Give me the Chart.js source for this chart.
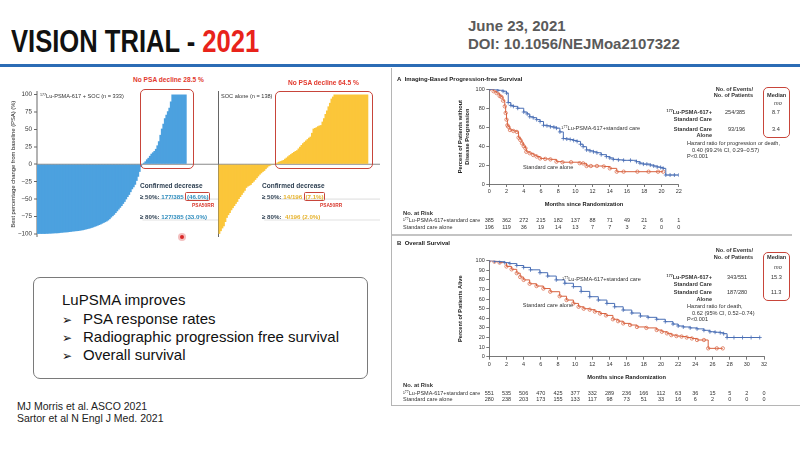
<!DOCTYPE html>
<html lang="en">
<head>
<meta charset="utf-8">
<title>VISION trial 2021</title>
<script src="https://cdn.jsdelivr.net/npm/chart.js@4.4.0/dist/chart.umd.min.js"></script>
<style>
  html, body { margin: 0; padding: 0; }
  body { width: 800px; height: 450px; position: relative; overflow: hidden; background: #fff;
         font-family: Arial, "Liberation Sans", sans-serif; color: #222; }
  .t { position: absolute; white-space: nowrap; line-height: 1; z-index: 2; }
  .b { font-weight: bold; }
  canvas { position: absolute; z-index: 1; }
  sup { font-size: 65%; vertical-align: 0.45em; line-height: 0; }
  .km { font-size: 5.6px; color: #333; }
  .wf { font-size: 6.2px; font-weight: bold; color: #2c3e50; }
  .redbox { position: absolute; border: 1.3px solid #c8453a; border-radius: 5px; z-index: 2; }
  .bx { border: 1px solid #c8453a; border-radius: 1.5px; padding: 0 0.5px; }
</style>
</head>
<body>

<!-- header -->
<div class="t b" style="left:11px; top:26px; font-size:31px; color:#111; transform:scaleX(0.825); transform-origin:left top;">VISION TRIAL - <span style="color:#e8231b;">2021</span></div>
<div class="t b" style="left:468px; top:18px; font-size:15px; color:#5a5a5a;">June 23, 2021</div>
<div class="t b" style="left:468px; top:36px; font-size:15px; color:#5a5a5a;">DOI: 10.1056/NEJMoa2107322</div>
<div style="position:absolute; left:0; top:63.5px; width:800px; height:3px; background:#2b6cb5;"></div>

<canvas id="wfLu" width="218" height="160" style="left:0; top:85px;"></canvas>
<canvas id="wfSoc" width="165" height="160" style="left:218px; top:85px;"></canvas>

<!-- waterfall overlays -->
<div class="t b" style="left:133px; top:76.5px; font-size:6.6px; color:#e2392d;">No PSA decline 28.5 %</div>
<div class="t b" style="left:288px; top:79.5px; font-size:6.6px; color:#e2392d;">No PSA decline 64.5 %</div>
<div class="t" style="left:40px; top:94px; font-size:5.6px; color:#333;"><sup>177</sup>Lu-PSMA-617 + SOC (n = 333)</div>
<div class="t" style="left:221px; top:94px; font-size:5.6px; color:#333;">SOC alone (n = 138)</div>
<div class="redbox" style="left:140px; top:89px; width:52px; height:78px;"></div>
<div class="redbox" style="left:275px; top:91px; width:96px; height:76px;"></div>

<div class="t wf" style="left:140px; top:182.5px; font-size:6.5px;">Confirmed decrease</div>
<div class="t wf" style="left:140px; top:194px;">≥ 50%: <span style="color:#2e8cbd;">177/385 <span class="bx">(46.0%)</span></span></div>
<div class="t b" style="left:192px; top:204px; font-size:4.8px; color:#d8362b;">PSA50RR</div>
<div class="t wf" style="left:140px; top:214px;">≥ 80%: <span style="color:#2e8cbd;">127/385 (33.0%)</span></div>

<div class="t wf" style="left:262px; top:182.5px; font-size:6.5px;">Confirmed decrease</div>
<div class="t wf" style="left:262px; top:194px;">≥ 50%: <span style="color:#e6b22c;">14/196 <span class="bx">(7.1%)</span></span></div>
<div class="t b" style="left:320px; top:204px; font-size:4.8px; color:#d8362b;">PSA50RR</div>
<div class="t wf" style="left:262px; top:214px;">≥ 80%: &nbsp;<span style="color:#e6b22c;">4/196 (2.0%)</span></div>
<div style="position:absolute; left:178px; top:233px; width:8px; height:8px; border-radius:50%; background:#f3c0c0; z-index:2;"></div>
<div style="position:absolute; left:180px; top:235px; width:4px; height:4px; border-radius:50%; background:#d92626; z-index:3;"></div>

<!-- summary box -->
<div style="position:absolute; left:33px; top:277px; width:333px; height:100px; border:1.5px solid #7a7a7a; border-radius:7px;"></div>
<div class="t" style="left:62px; top:292px; font-size:15px; color:#111;">LuPSMA improves</div>
<div class="t" style="left:62px; top:310.5px; font-size:15px; color:#111;"><span style="font-family:'DejaVu Sans'; font-size:12px;">➢</span></div>
<div class="t" style="left:83px; top:310.5px; font-size:15px; color:#111;">PSA response rates</div>
<div class="t" style="left:62px; top:328.5px; font-size:15px; color:#111;"><span style="font-family:'DejaVu Sans'; font-size:12px;">➢</span></div>
<div class="t" style="left:83px; top:328.5px; font-size:15px; color:#111;">Radiographic progression free survival</div>
<div class="t" style="left:62px; top:347px; font-size:15px; color:#111;"><span style="font-family:'DejaVu Sans'; font-size:12px;">➢</span></div>
<div class="t" style="left:83px; top:347px; font-size:15px; color:#111;">Overall survival</div>

<div class="t" style="left:17px; top:401px; font-size:10.5px; color:#222;">MJ Morris et al. ASCO 2021</div>
<div class="t" style="left:17px; top:413px; font-size:10.5px; color:#222;">Sartor et al N Engl J Med. 2021</div>

<!-- NEJM panel frame -->
<div style="position:absolute; left:391px; top:68px; width:410px; height:337px; border-left:1.2px solid #b5b5b5; border-bottom:1.2px solid #b5b5b5;"></div>
<div style="position:absolute; left:392px; top:234px; width:400px; height:1.5px; background:#c4c4c4;"></div>

<div class="t km b" style="left:397px; top:76px; font-size:6px; color:#222;">A&nbsp;&nbsp;Imaging-Based Progression-free Survival</div>
<div class="t km b" style="left:397px; top:240px; font-size:6px; color:#222;">B&nbsp;&nbsp;Overall Survival</div>

<!-- panel A legend -->
<div class="t km b" style="right:47px; top:86.5px; text-align:right;">No. of Events/</div>
<div class="t km b" style="right:47px; top:93px; text-align:right;">No. of Patients</div>
<div class="t km b" style="left:767px; top:93px;">Median</div>
<div class="t km" style="left:774px; top:101px; font-style:italic;">mo</div>
<div class="t km b" style="right:88px; top:110px;"><sup>177</sup>Lu-PSMA-617+</div>
<div class="t km b" style="right:88px; top:116.5px;">Standard Care</div>
<div class="t km" style="left:725px; top:110px;">254/385</div>
<div class="t km" style="left:772px; top:110px;">8.7</div>
<div class="t km b" style="right:88px; top:126.5px;">Standard Care</div>
<div class="t km b" style="right:88px; top:133px;">Alone</div>
<div class="t km" style="left:728px; top:126.5px;">93/196</div>
<div class="t km" style="left:772px; top:126.5px;">3.4</div>
<div class="t km" style="left:687px; top:141px;">Hazard ratio for progression or death,</div>
<div class="t km" style="left:692px; top:147.5px;">0.40 (99.2% CI, 0.29–0.57)</div>
<div class="t km" style="left:687px; top:154px;">P&lt;0.001</div>
<div class="redbox" style="left:763px; top:87px; width:25px; height:49px;"></div>

<!-- panel B legend -->
<div class="t km b" style="right:47px; top:248px; text-align:right;">No. of Events/</div>
<div class="t km b" style="right:47px; top:254.5px; text-align:right;">No. of Patients</div>
<div class="t km b" style="left:767px; top:254.5px;">Median</div>
<div class="t km" style="left:774px; top:265px; font-style:italic;">mo</div>
<div class="t km b" style="right:88px; top:275px;"><sup>177</sup>Lu-PSMA-617+</div>
<div class="t km b" style="right:88px; top:281.5px;">Standard Care</div>
<div class="t km" style="left:727px; top:275px;">343/551</div>
<div class="t km" style="left:771px; top:275px;">15.3</div>
<div class="t km b" style="right:88px; top:290px;">Standard Care</div>
<div class="t km b" style="right:88px; top:296.5px;">Alone</div>
<div class="t km" style="left:727px; top:290px;">187/280</div>
<div class="t km" style="left:771px; top:290px;">11.3</div>
<div class="t km" style="left:687px; top:304px;">Hazard ratio for death,</div>
<div class="t km" style="left:692px; top:310.5px;">0.62 (95% CI, 0.52–0.74)</div>
<div class="t km" style="left:687px; top:317px;">P&lt;0.001</div>
<div class="redbox" style="left:763px; top:252px; width:25px; height:47px;"></div>

<canvas id="kmPfs" width="400" height="160" style="left:392px; top:72px;"></canvas>
<canvas id="kmOs" width="400" height="166" style="left:392px; top:238px;"></canvas>

<script>
// Best PSA change from baseline, sorted
const luChange = [
  -100, -100, -100, -100, -100, -100, -99.8, -99.7, -99.6, -99.5,
  -99.4, -99.3, -99.1, -99, -98.8, -98.6, -98.4, -98.2, -98, -97.8,
  -97.6, -97.3, -97, -96.8, -96.5, -96.2, -96, -95.8, -95.5, -95.1,
  -94.7, -94.2, -93.7, -93.2, -92.6, -92, -91.3, -90.6, -89.8, -89,
  -88.2, -87.3, -86.3, -85.3, -84.2, -83.1, -82, -80.5, -78.7, -76.5,
  -74.5, -72.5, -70, -67.5, -65, -62.5, -60, -57, -54, -50.5,
  -47, -44, -40, -36, -33, -29.5, -24, -18, -11, -4,
  0.5, 2, 4, 7, 9, 12, 15, 17, 19, 22,
  27, 33, 42, 51, 58, 66, 71, 76, 81, 90,
  100, 100, 100, 100, 100, 100, 100, 100, 100, 100
];
const socChange = [
  -100, -96, -92, -89, -83, -77, -73, -70, -66, -63,
  -60, -57, -54, -50, -47, -44, -41, -38, -34, -32,
  -31, -29.6, -27, -25, -22.5, -20, -17.5, -15, -13, -11,
  -9.5, -7, -5, -3, -2, -1.2, -0.6,
  0.3, 1.4, 2.5, 3.5, 4.5, 5.2, 6, 7.8, 9.5, 11.2,
  13, 14.5, 16, 17.5, 19, 20, 22.5, 25, 27.5, 30,
  32, 34, 36, 38, 39.5, 45, 51, 52, 53, 54.5,
  55.5, 56, 61, 66, 72, 77, 83, 88, 94, 97,
  100, 100, 100, 100, 100, 100, 100, 100, 100, 100,
  100, 100, 100, 100, 100, 100, 100, 100, 100, 100, 100, 100, 100
];
const waterfallTicks = [-100, -75, -50, -25, 0, 25, 50, 75, 100];
const confirmedLines = [-50, -80];

// Imaging-based PFS (Kaplan-Meier)
const pfsLuMonths = [0, 1.0, 1.6, 2.0, 2.2, 2.5, 2.8, 3.3, 4.0, 4.4, 4.7, 5.1, 5.5, 5.9, 6.3, 6.7, 7.1, 7.5, 7.8, 8.2,
  8.6, 9.0, 9.4, 9.8, 10.2, 10.6, 10.9, 11.3, 11.7, 12.1, 12.5, 13.0, 13.6, 14.0, 14.4, 15.0, 15.6, 16.4, 17.1, 17.5,
  17.9, 18.3, 18.7, 19.1, 19.5, 19.9, 20.2, 20.5, 21.0, 21.5, 22.0];
const pfsLuPct = [100, 99, 98, 96, 86, 83, 82, 80, 76, 74, 71, 70, 68, 66, 62, 61.5, 60.5, 60, 59, 55,
  48, 47.5, 47, 46, 45, 42, 39.4, 36, 35, 34, 33, 31, 29, 27.5, 26, 25.5, 25, 25, 23.6, 22,
  21, 21, 20, 19, 18, 17.5, 16.5, 9.5, 9.5, 9.5, 9.5];
const pfsSocMonths = [0, 0.5, 0.85, 1.2, 1.4, 1.6, 1.8, 1.9, 2.0, 2.1, 2.2, 2.4, 2.8, 3.2, 3.4, 3.6, 3.8, 4.0, 4.2, 4.3,
  4.7, 5.1, 5.5, 5.9, 6.5, 7.1, 7.8, 8.5, 9.5, 10.5, 10.9, 11.3, 11.8, 12.5, 13.3, 14.0, 14.8, 15.6, 17.2, 18.5,
  19.6, 20.2];
const pfsSocPct = [100, 98, 96, 93, 92, 88, 82, 75, 68, 62, 60.5, 57, 56, 55, 49, 46.5, 43, 40, 37.7, 34,
  32.5, 30.6, 29, 27, 26.5, 26, 23.6, 23, 23, 22, 21.8, 19, 19, 19, 18.5, 16.5, 13, 13, 13, 13,
  13, 13];
const pfsRiskLu = [385, 362, 272, 215, 182, 137, 88, 71, 49, 21, 6, 1];
const pfsRiskSoc = [196, 119, 36, 19, 14, 13, 7, 7, 3, 2, 0, 0];

// Overall survival (Kaplan-Meier)
const osLuMonths = [0, 0.6, 1.2, 1.8, 2.4, 3.2, 4.0, 4.8, 5.9, 6.8, 7.8, 8.8, 9.8, 10.7, 11.7, 12.7, 13.7, 14.6, 15.6, 16.6,
  17.6, 18.5, 19.5, 20.5, 21.4, 22.0, 22.6, 23.4, 24.2, 25.0, 25.7, 26.3, 26.9, 27.3, 27.7, 28.5, 29.5, 30.5, 31.5];
const osLuPct = [100, 99.5, 99, 98, 97, 95, 93, 90.5, 87.5, 84, 80, 76.5, 73, 68, 62.5, 59, 55.5, 52, 48.6, 45.5,
  42.4, 41, 39, 36.5, 34, 32, 31, 30, 29, 27.5, 26, 25.5, 25, 24, 20, 20, 20, 20, 20];
const osSocMonths = [0, 0.6, 1.2, 2.0, 2.6, 3.2, 3.6, 4.0, 4.7, 5.5, 6.3, 7.1, 8.2, 9.0, 9.8, 10.4, 11.0, 11.7, 12.3, 12.9,
  13.6, 14.4, 15.0, 15.6, 16.4, 17.2, 18.3, 19.5, 20.1, 20.7, 21.2, 21.8, 22.4, 23.0, 23.6, 24.2, 25.0, 25.5, 26.5, 27.2];
const osSocPct = [100, 99, 98, 94, 91, 87, 83, 80, 76, 73.6, 71, 67.7, 63, 59, 55.5, 52, 50, 49, 47, 45,
  43, 39, 37, 34.7, 33, 31, 30, 27.8, 26, 24.3, 22.5, 21.5, 21, 20, 19, 17.4, 17.4, 8.7, 8.7, 8.7];
const osRiskLu = [551, 535, 506, 470, 425, 377, 332, 289, 236, 166, 112, 63, 36, 15, 5, 2, 0];
const osRiskSoc = [280, 238, 203, 173, 155, 133, 117, 98, 73, 51, 33, 16, 6, 2, 0, 0, 0];

const BLUE_BAR = '#4ca1df';
const GOLD_BAR = '#fbc63a';
const KM_BLUE = '#4a6fb5';
const KM_RED = '#d8623f';

Chart.defaults.font.family = "'Liberation Sans', Arial, sans-serif";
Chart.defaults.color = '#333';

// zero line + faint confirmed-decrease rules behind the bars
const wfLines = {
  id: 'wfLines',
  beforeDatasetsDraw(chart, args, opts) {
    const { ctx, chartArea, scales } = chart;
    ctx.save();
    ctx.lineWidth = 0.8;
    ctx.strokeStyle = '#d6d6d6';
    opts.rules.forEach(v => {
      const py = scales.y.getPixelForValue(v);
      ctx.beginPath();
      ctx.moveTo(scales.x.getPixelForValue(opts.ruleFrom), py);
      ctx.lineTo(opts.lineTo, py);
      ctx.stroke();
    });
    ctx.strokeStyle = '#8a8a8a';
    ctx.lineWidth = 1;
    const zy = scales.y.getPixelForValue(0);
    ctx.beginPath();
    ctx.moveTo(chartArea.left, zy);
    ctx.lineTo(opts.lineTo, zy);
    ctx.stroke();
    ctx.restore();
  }
};

function waterfall(id, values, color, o) {
  new Chart(document.getElementById(id), {
    type: 'bar',
    data: {
      labels: values.map((v, i) => i + 1),
      datasets: [{
        data: values, backgroundColor: color, borderWidth: 0,
        barPercentage: 1.5, categoryPercentage: 1
      }]
    },
    options: {
      responsive: false, animation: false, events: [], devicePixelRatio: 2,
      layout: { padding: { left: 0, right: o.padRight, top: 6.7, bottom: 8.3 } },
      plugins: {
        legend: { display: false }, tooltip: { enabled: false },
        wfLines: { rules: confirmedLines, ruleFrom: o.ruleFrom, lineTo: o.lineTo }
      },
      scales: {
        x: { display: false },
        y: {
          min: -104, max: 104,
          afterBuildTicks: s => { s.ticks = waterfallTicks.map(v => ({ value: v })); },
          afterFit: s => { s.width = o.axisWidth; },
          ticks: { display: o.labels, font: { size: 6.3 }, color: '#333', padding: 2,
                   callback: v => String(v).replace('-', '−') },
          grid: { drawOnChartArea: false, drawTicks: o.labels, tickLength: 3, color: '#666' },
          border: { display: true, color: '#666', width: 1 },
          title: { display: o.labels, text: 'Best percentage change from baseline (PSA) (%)',
                   font: { size: 5.8 }, color: '#222', padding: { top: 10, bottom: 0 } }
        }
      }
    },
    plugins: [wfLines]
  });
}

waterfall('wfLu', luChange, BLUE_BAR, { padRight: 31.3, axisWidth: 37, labels: true, ruleFrom: 70, lineTo: 218 });
waterfall('wfSoc', socChange, GOLD_BAR, { padRight: 14.7, axisWidth: 0.5, labels: false, ruleFrom: 30, lineTo: 162 });

// number-at-risk table and in-plot curve labels
const kmText = {
  id: 'kmText',
  afterDraw(chart, args, opts) {
    const { ctx, scales } = chart;
    ctx.save();
    ctx.fillStyle = '#333';
    ctx.textBaseline = 'middle';
    ctx.font = "5.6px 'Liberation Sans', Arial";
    opts.curveLabels.forEach(l => {
      ctx.textAlign = 'left';
      ctx.fillText(l.text, scales.x.getPixelForValue(l.month), scales.y.getPixelForValue(l.pct));
    });
    ctx.font = "bold 5.8px 'Liberation Sans', Arial";
    ctx.fillText('No. at Risk', 11, opts.riskY[0]);
    ctx.font = "5.5px 'Liberation Sans', Arial";
    opts.rows.forEach((row, r) => {
      const y = opts.riskY[r + 1];
      ctx.textAlign = 'left';
      ctx.fillText(row.label, 11, y);
      ctx.textAlign = 'center';
      row.counts.forEach((n, i) => ctx.fillText(String(n), scales.x.getPixelForValue(i * 2), y));
    });
    ctx.restore();
  }
};

const toPoints = (months, pct) => months.map((m, i) => ({ x: m, y: pct[i] }));

function kmChart(id, c) {
  new Chart(document.getElementById(id), {
    type: 'line',
    data: {
      datasets: [
        { data: toPoints(c.luMonths, c.luPct), borderColor: KM_BLUE, borderWidth: 1, stepped: 'before',
          pointStyle: 'cross', pointRadius: 2, pointBorderWidth: 0.8, pointBorderColor: KM_BLUE },
        { data: toPoints(c.socMonths, c.socPct), borderColor: KM_RED, borderWidth: 1, stepped: 'before',
          pointStyle: 'circle', pointRadius: 1.7, pointBorderWidth: 0.7, pointBorderColor: KM_RED,
          pointBackgroundColor: 'rgba(255,255,255,0)' }
      ]
    },
    options: {
      responsive: false, animation: false, events: [],
      layout: { padding: c.padding },
      plugins: {
        legend: { display: false }, tooltip: { enabled: false },
        kmText: { curveLabels: c.curveLabels, riskY: c.riskY, rows: c.rows }
      },
      scales: {
        x: {
          type: 'linear', min: 0, max: c.xMax,
          afterFit: s => { s.height = 24; },
          ticks: { stepSize: 2, font: { size: 5.5 }, color: '#333', padding: 1.5, maxRotation: 0 },
          grid: { drawOnChartArea: false, tickLength: 3, color: '#555', lineWidth: 0.8 },
          border: { color: '#555', width: 0.8 },
          title: { display: true, text: 'Months since Randomization', font: { size: 5.7, weight: 'bold' },
                   color: '#222', padding: { top: 4, bottom: 0 } }
        },
        y: {
          min: 0, max: 100,
          afterFit: s => { s.width = 40; },
          ticks: { stepSize: 10, font: { size: 5.5 }, color: '#333', padding: 1.5 },
          grid: { drawOnChartArea: false, tickLength: 3, color: '#555', lineWidth: 0.8 },
          border: { color: '#555', width: 0.8 },
          title: { display: true, text: c.yTitle, font: { size: 5.7, weight: 'bold' }, color: '#222',
                   padding: { top: 8, bottom: 0 } }
        }
      }
    },
    plugins: [kmText]
  });
}

kmChart('kmPfs', {
  luMonths: pfsLuMonths, luPct: pfsLuPct, socMonths: pfsSocMonths, socPct: pfsSocPct,
  xMax: 22, yTitle: ['Percent of Patients without', 'Disease Progression'],
  padding: { left: 57.3, top: 17.3, right: 113.3, bottom: 24 },
  curveLabels: [
    { text: '¹⁷⁷Lu-PSMA-617+standard care', month: 8.4, pct: 59 },
    { text: 'Standard care alone', month: 3.9, pct: 17 }
  ],
  riskY: [141, 148, 155],
  rows: [
    { label: '¹⁷⁷Lu-PSMA-617+standard care', counts: pfsRiskLu },
    { label: 'Standard care alone', counts: pfsRiskSoc }
  ]
});

kmChart('kmOs', {
  luMonths: osLuMonths, luPct: osLuPct, socMonths: osSocMonths, socPct: osSocPct,
  xMax: 32, yTitle: 'Percent of Patients Alive',
  padding: { left: 57.3, top: 22.7, right: 28, bottom: 23.3 },
  curveLabels: [
    { text: '¹⁷⁷Lu-PSMA-617+standard care', month: 8.5, pct: 80 },
    { text: 'Standard care alone', month: 3.9, pct: 53 }
  ],
  riskY: [147, 155, 161.3],
  rows: [
    { label: '¹⁷⁷Lu-PSMA-617+standard care', counts: osRiskLu },
    { label: 'Standard care alone', counts: osRiskSoc }
  ]
});
</script>
</body>
</html>
